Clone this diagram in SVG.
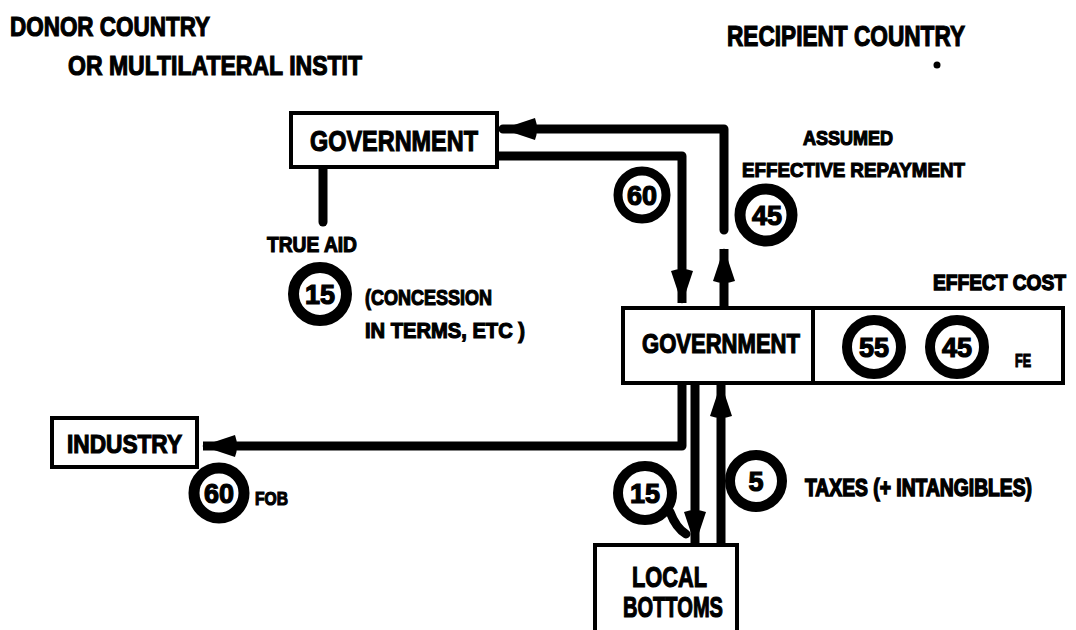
<svg xmlns="http://www.w3.org/2000/svg" width="1076" height="630" viewBox="0 0 1076 630">
  <style>
    .t { font-family: "Liberation Sans", "DejaVu Sans", sans-serif; font-weight: bold; fill: #000; stroke: #000; stroke-width: 1.2; }
    .box { fill: #fff; stroke: #000; stroke-width: 4; }
    .ring { fill: #fff; stroke: #000; }
    .num { font-family: "Liberation Sans", "DejaVu Sans", sans-serif; font-weight: bold; font-size: 27px; text-anchor: middle; fill: #000; stroke: #000; stroke-width: 1.2; }
    .conn { fill: none; stroke: #000; stroke-width: 9; stroke-linejoin: round; }
  </style>
  <defs>
    <marker id="ah" markerUnits="userSpaceOnUse" markerWidth="40" markerHeight="28" viewBox="-36 -14 38 28" refX="0" refY="0" orient="auto">
      <path d="M1,0 L-32,-11 Q-36,0 -32,11 Z" fill="#000"/>
    </marker>
  </defs>
  <rect width="1076" height="630" fill="#fff"/>

  <g id="titles">
    <text class="t" x="10" y="36" font-size="28" textLength="200" lengthAdjust="spacingAndGlyphs">DONOR COUNTRY</text>
    <text class="t" x="68" y="75" font-size="28" textLength="294" lengthAdjust="spacingAndGlyphs">OR MULTILATERAL INSTIT</text>
    <text class="t" x="727" y="46" font-size="29" textLength="238" lengthAdjust="spacingAndGlyphs">RECIPIENT COUNTRY</text>
    <circle cx="937" cy="65" r="3.5" fill="#000"/>
  </g>

  <g id="connectors">
    <path class="conn" d="M497,156 H682 V303" marker-end="url(#ah)"/>
    <path class="conn" d="M724,308 V249" marker-end="url(#ah)"/>
    <path class="conn" d="M724,230 V129 H503" stroke-linecap="round" marker-end="url(#ah)"/>
    <path class="conn" d="M323,167 V222" stroke-width="10" stroke-linecap="round"/>
    <path class="conn" d="M682,383 V446 H203" marker-end="url(#ah)"/>
    <path class="conn" d="M695,383 V544" marker-end="url(#ah)"/>
    <path class="conn" d="M721,545 V384" marker-end="url(#ah)"/>
  </g>

  <g id="donor-government">
    <rect class="box" x="291" y="113" width="206" height="54"/>
    <text class="t" x="310" y="151" font-size="30" textLength="168" lengthAdjust="spacingAndGlyphs">GOVERNMENT</text>
  </g>

  <g id="true-aid">
    <text class="t" x="267" y="252" font-size="22" textLength="90" lengthAdjust="spacingAndGlyphs">TRUE AID</text>
    <circle class="ring" cx="320" cy="294" r="26.5" stroke-width="11"/>
    <text class="num" x="320" y="304">15</text>
    <text class="t" x="365" y="305" font-size="22" textLength="127" lengthAdjust="spacingAndGlyphs">(CONCESSION</text>
    <text class="t" x="365" y="338" font-size="22" textLength="160" lengthAdjust="spacingAndGlyphs">IN TERMS, ETC )</text>
  </g>

  <g id="flow-60">
    <circle class="ring" cx="642" cy="195" r="24" stroke-width="9"/>
    <text class="num" x="642" y="205">60</text>
  </g>

  <g id="repayment-45">
    <text class="t" x="803" y="145" font-size="20" textLength="90" lengthAdjust="spacingAndGlyphs">ASSUMED</text>
    <text class="t" x="742" y="177" font-size="21" textLength="223" lengthAdjust="spacingAndGlyphs">EFFECTIVE REPAYMENT</text>
    <circle class="ring" cx="766" cy="215" r="26" stroke-width="11"/>
    <text class="num" x="767" y="225">45</text>
  </g>

  <g id="recipient-government">
    <rect class="box" x="623" y="308" width="440" height="75"/>
    <line x1="813" y1="308" x2="813" y2="383" stroke="#000" stroke-width="4"/>
    <text class="t" x="642" y="353" font-size="27" textLength="158" lengthAdjust="spacingAndGlyphs">GOVERNMENT</text>
  </g>

  <g id="effect-cost">
    <text class="t" transform="translate(933,290) scale(1,1.15)" x="0" y="0" font-size="19" textLength="133" lengthAdjust="spacingAndGlyphs">EFFECT COST</text>
    <circle class="ring" cx="874" cy="347" r="27" stroke-width="10"/>
    <text class="num" x="874" y="357">55</text>
    <circle class="ring" cx="957" cy="347" r="27" stroke-width="10"/>
    <text class="num" x="957" y="357">45</text>
    <text class="t" x="1015" y="367" font-size="18" textLength="16" lengthAdjust="spacingAndGlyphs">FE</text>
  </g>

  <g id="industry">
    <rect class="box" x="52" y="418" width="145" height="49"/>
    <text class="t" x="67" y="453" font-size="26" textLength="115" lengthAdjust="spacingAndGlyphs">INDUSTRY</text>
    <circle class="ring" cx="219" cy="493" r="25" stroke-width="11"/>
    <text class="num" x="219" y="503">60</text>
    <text class="t" x="255" y="505" font-size="19" textLength="33" lengthAdjust="spacingAndGlyphs">FOB</text>
  </g>

  <g id="flow-15">
    <path d="M670,512 Q676,528 686,534" fill="none" stroke="#000" stroke-width="9" stroke-linecap="round"/>
    <circle class="ring" cx="645" cy="493" r="27" stroke-width="10"/>
    <text class="num" x="645" y="503">15</text>
  </g>

  <g id="taxes-5">
    <circle class="ring" cx="756" cy="481" r="26" stroke-width="10"/>
    <text class="num" x="756" y="491">5</text>
    <text class="t" transform="translate(805,496) scale(1,1.25)" x="0" y="0" font-size="19" textLength="227" lengthAdjust="spacingAndGlyphs">TAXES (+ INTANGIBLES)</text>
  </g>

  <g id="local-bottoms">
    <rect class="box" x="595" y="545" width="142" height="100"/>
    <text class="t" x="632" y="587" font-size="30" textLength="75" lengthAdjust="spacingAndGlyphs">LOCAL</text>
    <text class="t" x="623" y="617" font-size="30" textLength="100" lengthAdjust="spacingAndGlyphs">BOTTOMS</text>
  </g>
</svg>
